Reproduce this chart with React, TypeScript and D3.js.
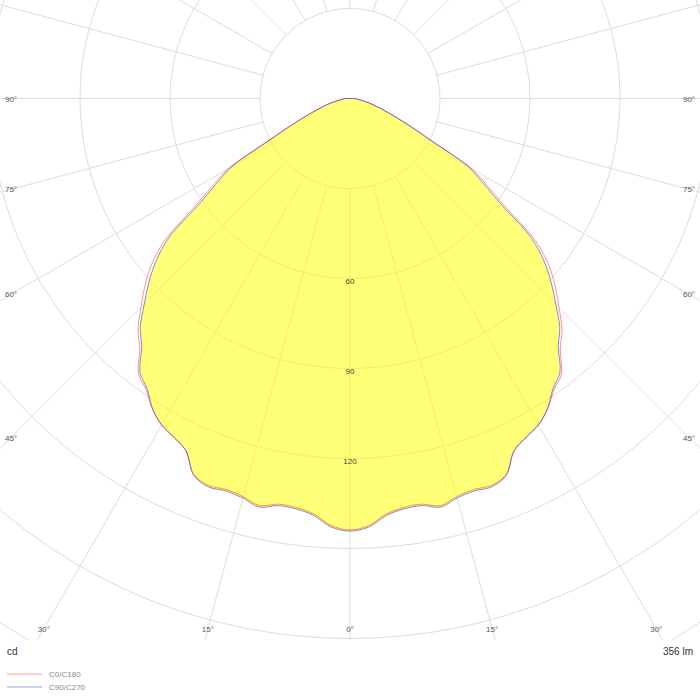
import React from "react";
import * as d3 from "d3";

// gamma angles (0 = straight down), intensities in cd
const GAMMA = [
  0, 2.5, 5, 7.5, 10, 12.5, 15, 17.5, 20, 22.5, 25, 27.5, 30, 32.5, 35, 37.5,
  40, 42.5, 45, 47.5, 50, 52.5, 55, 57.5, 60, 62.5, 65, 67.5, 70, 75, 80, 85, 90,
];
const C0_C180 = [
  143.8, 142.5, 139, 137.5, 137.3, 139, 137.4, 136.7, 137.3, 135.8, 129.5,
  127.2, 125.6, 122.7, 118.5, 115.8, 109, 104.6, 98.5, 92.8, 86.5, 78, 63.8,
  54.5, 47, 31.5, 23.2, 17.4, 13.2, 8, 4.5, 2.5, 1.5,
];
const C90_C270 = [
  144.2, 143, 139.5, 138, 137.8, 139.5, 137.9, 137.2, 137.8, 136, 129.5, 127.3,
  125.6, 122.5, 118, 115, 108, 103.5, 97, 91, 84.5, 76, 61.5, 52.7, 45.5, 30.5,
  22.5, 17, 13, 8, 4.5, 2.5, 1.5,
];
const RINGS = [30, 60, 90, 120, 150, 180, 210];
const RING_LABELS = [60, 90, 120];
const ANGLE_LABELS = [0, 15, 30, 45, 60, 75, 90];
const LEGEND = ["C0/C180", "C90/C270"];
const FLUX = "356 lm";

const W = 700;
const H = 700;
const cx = 350;
const cy = 98.5;
const plotBottom = 640;
const font = '"Liberation Sans", Arial, sans-serif';

const r = d3.scaleLinear().domain([0, 30]).range([0, 90]);
const rad = (deg: number) => (deg * Math.PI) / 180;

// closed outline: origin, right side from 90° down to 0°, left side back up to 90°
function outline(values: number[]): [number, number][] {
  const pts: [number, number][] = [[0, 0]];
  for (let i = GAMMA.length - 1; i >= 0; i--) pts.push([Math.PI - rad(GAMMA[i]), values[i]]);
  for (let i = 1; i < GAMMA.length; i++) pts.push([Math.PI + rad(GAMMA[i]), values[i]]);
  return pts;
}

const radial = d3
  .lineRadial<[number, number]>()
  .angle((d) => d[0])
  .radius((d) => r(d[1]))
  .curve(d3.curveCatmullRomClosed.alpha(0.5));

// where a spoke meets the label frame
function labelPos(g: number, side: number) {
  const s = Math.sin(rad(g));
  const c = Math.cos(rad(g));
  const tb = c > 1e-6 ? (629 - cy) / c : Infinity;
  const ts = s > 1e-6 ? (cx - 11) / s : Infinity;
  const t = Math.min(tb, ts);
  return { x: cx + side * t * s, y: cy + t * c };
}

const App: React.FC = () => {
  const spokes = d3.range(0, 360, 15);
  const labels: { g: number; x: number; y: number }[] = [];
  ANGLE_LABELS.forEach((g) => {
    labels.push({ g, ...labelPos(g, -1) });
    if (g !== 0) labels.push({ g, ...labelPos(g, 1) });
  });
  const fillPath = radial(outline(C90_C270)) || "";

  return (
    <div style={{ position: "absolute", left: 0, top: 0 }}>
      <svg width={W} height={H} viewBox={`0 0 ${W} ${H}`} style={{ display: "block" }}>
        <defs>
          <clipPath id="plot">
            <rect x={0} y={0} width={W} height={plotBottom} />
          </clipPath>
        </defs>
        <rect width={W} height={H} fill="#fff" />
        <g clipPath="url(#plot)">
          <g transform={`translate(${cx},${cy})`}>
            {RINGS.map((v) => (
              <circle key={v} r={r(v)} fill="none" stroke="#dcdcdc" strokeWidth={1} />
            ))}
            {spokes.map((a) => (
              <line
                key={a}
                x1={r(30) * Math.sin(rad(a))}
                y1={r(30) * Math.cos(rad(a))}
                x2={1000 * Math.sin(rad(a))}
                y2={1000 * Math.cos(rad(a))}
                stroke="#dcdcdc"
                strokeWidth={1}
              />
            ))}
            <path d={fillPath} fill="#ffff00" fillOpacity={0.53} stroke="none" />
            <path d={radial(outline(C0_C180)) || ""} fill="none" stroke="rgba(255,40,20,0.5)" strokeWidth={1} />
            <path d={fillPath} fill="none" stroke="rgba(20,20,255,0.5)" strokeWidth={1} />
            {RING_LABELS.map((v) => (
              <text
                key={v}
                x={0}
                y={r(v) + 5}
                textAnchor="middle"
                fontFamily={font}
                fontSize={8}
                fill="#444"
              >
                {v}
              </text>
            ))}
          </g>
        </g>
        {labels.map((l, i) => (
          <text
            key={i}
            x={l.x}
            y={l.y + 3}
            textAnchor="middle"
            fontFamily={font}
            fontSize={8}
            fill="#555"
          >
            {`${l.g}°`}
          </text>
        ))}
        <text x={7} y={655} fontFamily={font} fontSize={10} fill="#333">
          cd
        </text>
        <text x={693} y={655} textAnchor="end" fontFamily={font} fontSize={10} fill="#333">
          {FLUX}
        </text>
        {LEGEND.map((name, i) => (
          <g key={name} transform={`translate(0,${674 + i * 13})`}>
            <line
              x1={7}
              x2={42}
              y1={0}
              y2={0}
              stroke={i === 0 ? "rgba(255,0,0,0.25)" : "rgba(0,0,255,0.25)"}
              strokeWidth={1.5}
            />
            <text x={49} y={3} fontFamily={font} fontSize={8} fill="#888">
              {name}
            </text>
          </g>
        ))}
      </svg>
    </div>
  );
};

export default App;
